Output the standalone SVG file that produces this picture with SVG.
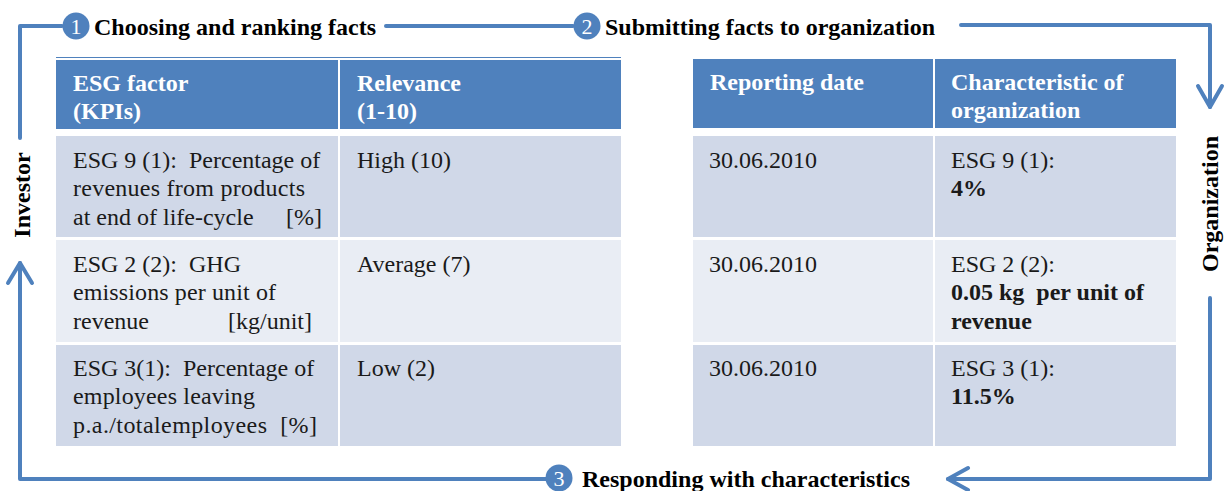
<svg xmlns="http://www.w3.org/2000/svg" width="1226" height="491" viewBox="0 0 1226 491">
<style>
.bg{fill:#ffffff}
.hd{fill:#4F81BD}
.r1{fill:#D0D8E8}
.r2{fill:#E9EDF4}
.ht{font-family:"Liberation Serif","Times New Roman",serif;font-size:24px;font-weight:bold;fill:#ffffff}
.bt{font-family:"Liberation Serif","Times New Roman",serif;font-size:24px;fill:#1a1a1a}
.bb{font-weight:bold}
.tt{font-family:"Liberation Serif","Times New Roman",serif;font-size:24px;font-weight:bold;fill:#000000}
.num{font-family:"Liberation Serif","Times New Roman",serif;font-size:22px;fill:#ffffff;text-anchor:middle}
.ln{fill:none;stroke:#4F81BD;stroke-width:4;stroke-linecap:round;stroke-linejoin:round}
.circ{fill:#4F81BD}
</style>
<rect class="bg" x="0" y="0" width="1226" height="491"/>

<g id="connectors">
  <path class="ln" d="M20,138 L20,26 L62,26"/>
  <path class="ln" d="M386,26 L573,26"/>
  <path class="ln" d="M961,25 L1210,25 L1210,107"/>
  <path class="ln" d="M1198,86 L1210,107 L1222,86"/>
  <path class="ln" d="M1210,298 L1210,479 L948,479"/>
  <path class="ln" d="M968,468 L948,479 L968,490"/>
  <path class="ln" d="M546,479 L20,479 L20,263"/>
  <path class="ln" d="M8,283 L20,263 L32,283"/>
</g>

<g id="step1">
  <circle class="circ" cx="76" cy="26" r="13.5"/>
  <text class="num" x="76" y="34">1</text>
  <text class="tt" x="94" y="35">Choosing and ranking facts</text>
</g>
<g id="step2">
  <circle class="circ" cx="587" cy="26" r="13.5"/>
  <text class="num" x="587" y="34">2</text>
  <text class="tt" x="605" y="35">Submitting facts to organization</text>
</g>
<g id="step3">
  <circle class="circ" cx="559" cy="478" r="13.5"/>
  <text class="num" x="559" y="486">3</text>
  <text class="tt" x="582" y="487">Responding with characteristics</text>
</g>
<g id="investor">
  <text class="tt" transform="translate(30,195) rotate(-90)" text-anchor="middle">Investor</text>
</g>
<g id="organization">
  <text class="tt" transform="translate(1218,204) rotate(-90)" text-anchor="middle">Organization</text>
</g>

<g id="investor-table">
  <line x1="56" y1="57.5" x2="621" y2="57.5" stroke="#4F81BD" stroke-width="1.2"/>
  <rect class="hd" x="56" y="60" width="282" height="69"/>
  <rect class="hd" x="340" y="60" width="281" height="69"/>
  <rect class="r1" x="56" y="136" width="282" height="101"/>
  <rect class="r1" x="340" y="136" width="281" height="101"/>
  <rect class="r2" x="56" y="240" width="282" height="102"/>
  <rect class="r2" x="340" y="240" width="281" height="102"/>
  <rect class="r1" x="56" y="345" width="282" height="101"/>
  <rect class="r1" x="340" y="345" width="281" height="101"/>
  <text class="ht" x="73" y="91">ESG factor</text>
  <text class="ht" x="73" y="119">(KPIs)</text>
  <text class="ht" x="357" y="91">Relevance</text>
  <text class="ht" x="357" y="119">(1-10)</text>
  <text class="bt" x="73" y="168" xml:space="preserve">ESG 9 (1):  Percentage of</text>
  <text class="bt" x="73" y="196" textLength="232" lengthAdjust="spacing">revenues from products</text>
  <text class="bt" x="73" y="225">at end of life-cycle<tspan x="286">[%]</tspan></text>
  <text class="bt" x="73" y="272" xml:space="preserve">ESG 2 (2):  GHG</text>
  <text class="bt" x="73" y="300" textLength="203" lengthAdjust="spacing">emissions per unit of</text>
  <text class="bt" x="73" y="329">revenue<tspan x="228">[kg/unit]</tspan></text>
  <text class="bt" x="73" y="376" xml:space="preserve">ESG 3(1):  Percentage of</text>
  <text class="bt" x="73" y="404" textLength="182" lengthAdjust="spacing">employees leaving</text>
  <text class="bt" x="73" y="433" xml:space="preserve" textLength="244" lengthAdjust="spacing">p.a./totalemployees  [%]</text>
  <text class="bt" x="357" y="168">High (10)</text>
  <text class="bt" x="357" y="272">Average (7)</text>
  <text class="bt" x="357" y="376">Low (2)</text>
</g>

<g id="organization-table">
  <rect class="hd" x="693" y="59" width="240" height="69"/>
  <rect class="hd" x="935" y="59" width="241" height="69"/>
  <rect class="r1" x="693" y="136" width="240" height="101"/>
  <rect class="r1" x="935" y="136" width="241" height="101"/>
  <rect class="r2" x="693" y="240" width="240" height="102"/>
  <rect class="r2" x="935" y="240" width="241" height="102"/>
  <rect class="r1" x="693" y="345" width="240" height="101"/>
  <rect class="r1" x="935" y="345" width="241" height="101"/>
  <text class="ht" x="710" y="90">Reporting date</text>
  <text class="ht" x="951" y="90">Characteristic of</text>
  <text class="ht" x="951" y="118">organization</text>
  <text class="bt" x="709" y="168">30.06.2010</text>
  <text class="bt" x="709" y="272">30.06.2010</text>
  <text class="bt" x="709" y="376">30.06.2010</text>
  <text class="bt" x="951" y="168">ESG 9 (1):</text>
  <text class="bt bb" x="951" y="196">4%</text>
  <text class="bt" x="951" y="272">ESG 2 (2):</text>
  <text class="bt bb" x="951" y="300" xml:space="preserve">0.05 kg  per unit of</text>
  <text class="bt bb" x="951" y="329">revenue</text>
  <text class="bt" x="951" y="376">ESG 3 (1):</text>
  <text class="bt bb" x="951" y="404">11.5%</text>
</g>
</svg>
